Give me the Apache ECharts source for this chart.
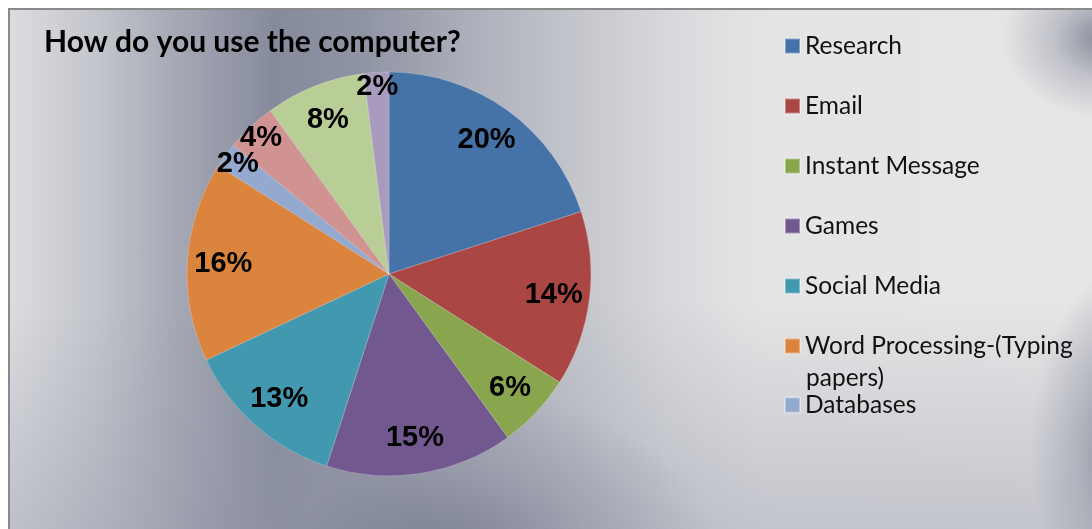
<!DOCTYPE html>
<html>
<head>
<meta charset="utf-8">
<title>How do you use the computer?</title>
<script src="https://cdn.jsdelivr.net/npm/echarts@6/dist/echarts.min.js"></script>
<style>
  html, body { margin: 0; padding: 0; background: #ffffff; }
  #frame {
    position: absolute; left: 8px; top: 8px; width: 1100px; height: 530px;
    border-top: 2px solid #8a8a8a; border-left: 2px solid #8a8a8a;
    background:
      radial-gradient(ellipse 100px 80px at 1092px 28px, rgba(120,124,142,0.85), rgba(150,153,168,0.45) 50%, rgba(230,230,232,0) 100%),
      radial-gradient(ellipse 110px 190px at 1130px 440px, rgba(118,122,140,0.95), rgba(150,153,168,0.55) 55%, rgba(230,230,232,0) 100%),
      radial-gradient(ellipse 280px 170px at 430px 545px, rgba(118,123,142,0.85), rgba(140,144,160,0.45) 55%, rgba(200,202,208,0) 100%),
      linear-gradient(180deg, rgba(0,0,0,0) 0%, rgba(0,0,0,0) 55%, rgba(150,154,170,0.45) 100%),
      linear-gradient(90deg, #dcdde0 0%, #c3c5cc 8%, #a6a9b5 15%, #868b9c 24%, #8f94a3 32%, #adb0bb 42%, #c5c7cd 52%, #d8d9dc 60%, #e4e4e5 68%, #e6e6e6 100%);
  }
  #chart { position: absolute; left: 0; top: 0; width: 1092px; height: 529px; }
</style>
</head>
<body>
<div id="frame"></div>
<div id="chart"></div>
<script>
// Survey answers, in the order the slices run clockwise from 12 o'clock
const categories = [
  'Research', 'Email', 'Instant Message', 'Games', 'Social Media',
  'Word Processing-(Typing papers)', 'Databases',
  'Category 8', 'Category 9', 'Category 10'
];
const shares = [20, 14, 6, 15, 13, 16, 2, 4, 8, 2];
const sliceColors = [
  '#4572A7', '#AA4643', '#89A54E', '#71588F', '#4198AF',
  '#DB843D', '#93A9CF', '#D19392', '#B9CD96', '#A99BBD'
];
// Only the first seven answers appear in the legend box
const legendTop = categories.slice(0, 6);
const legendBottom = categories.slice(6, 7);
// The long legend entry wraps after this word
const WRAP_AFTER = 'Word Processing-(Typing';

const chart = echarts.init(document.getElementById('chart'), null, { renderer: 'canvas' });

const CENTER = [389, 274];
const RADIUS = 202;

const legendFont = {
  fontFamily: 'Lato, "Open Sans", sans-serif',
  fontSize: 24.5,
  color: '#111111'
};
const legendText = Object.assign({ lineHeight: 34 }, legendFont);

const percentLabel = {
  show: true,
  position: 'inside',
  formatter: '{c}%',
  fontFamily: '"Liberation Sans", Arial, sans-serif',
  fontWeight: 'bold',
  fontSize: 29,
  color: '#000000'
};

// Transparent rings carrying the percentage labels; thin slices get theirs nearer the rim
function labelRing(name, radius, pick) {
  return {
    name: name,
    type: 'pie',
    center: CENTER,
    radius: radius,
    startAngle: 90,
    clockwise: true,
    silent: true,
    avoidLabelOverlap: false,
    legendHoverLink: false,
    itemStyle: { color: 'rgba(0,0,0,0)' },
    label: percentLabel,
    labelLine: { show: false },
    labelLayout: { hideOverlap: false },
    data: categories.map((n, i) => ({
      name: n,
      value: shares[i],
      label: { show: pick(shares[i]) }
    }))
  };
}

chart.setOption({
  animation: false,
  backgroundColor: 'transparent',
  title: {
    text: 'How do you use the computer?',
    left: 44,
    top: 27,
    padding: 0,
    textStyle: {
      fontFamily: 'Lato, "Open Sans", sans-serif',
      fontWeight: 'bold',
      fontSize: 30,
      color: '#000000'
    }
  },
  legend: [
    {
      orient: 'vertical',
      left: 784,
      top: 29,
      padding: 0,
      itemWidth: 15,
      itemHeight: 15,
      itemGap: 26,
      icon: 'rect',
      selectedMode: false,
      data: legendTop,
      formatter: function (name) {
        return name.indexOf(WRAP_AFTER) === 0 ? WRAP_AFTER : name;
      },
      textStyle: legendText
    },
    {
      orient: 'vertical',
      left: 784,
      top: 388,
      padding: 0,
      itemWidth: 15,
      itemHeight: 15,
      icon: 'rect',
      selectedMode: false,
      data: legendBottom,
      textStyle: legendText
    }
  ],
  graphic: [
    {
      // Second line of the wrapped legend entry
      type: 'text',
      left: 806,
      top: 366,
      silent: true,
      style: {
        text: categories[5].slice(WRAP_AFTER.length).trim(),
        fill: legendFont.color,
        font: legendFont.fontSize + 'px ' + legendFont.fontFamily
      }
    }
  ],
  series: [
    {
      name: 'Usage',
      type: 'pie',
      center: CENTER,
      radius: RADIUS,
      startAngle: 90,
      clockwise: true,
      silent: true,
      label: { show: false },
      labelLine: { show: false },
      itemStyle: { borderWidth: 0.6, borderColor: 'rgba(255,255,255,0.35)' },
      data: categories.map((name, i) => ({
        name: name,
        value: shares[i],
        itemStyle: { color: sliceColors[i] }
      }))
    },
    labelRing('Labels', [124, 202], v => v >= 5),
    labelRing('Small labels', [170, 198], v => v < 5)
  ]
});
</script>
</body>
</html>
